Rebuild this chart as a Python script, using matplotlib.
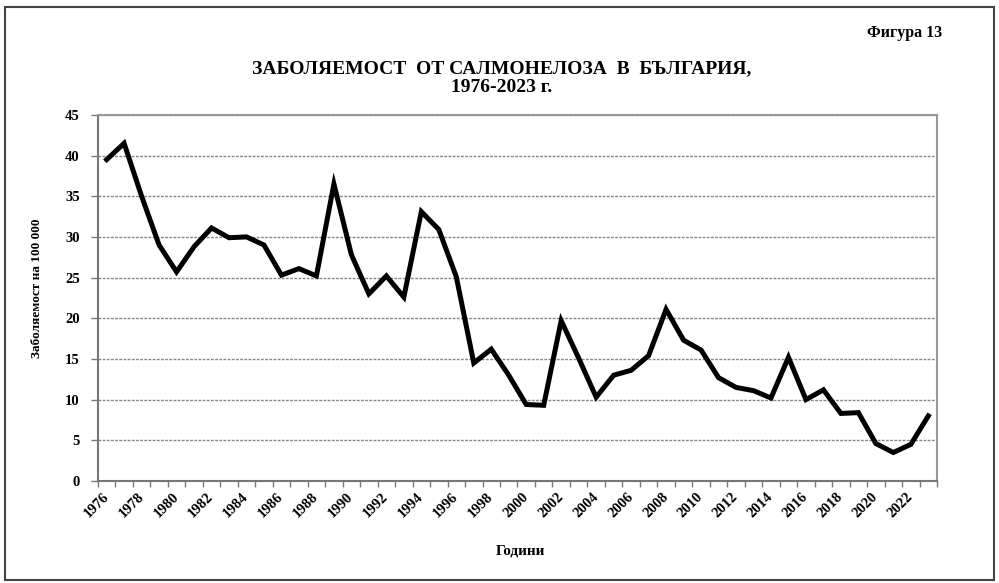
import matplotlib
matplotlib.use('Agg')
from matplotlib import pyplot as plt
from matplotlib.patches import Rectangle

# години и заболяемост на 100 000
years = list(range(1976, 2024))
rate = [39.5, 41.5, 35.0, 29.0, 25.7, 28.8, 31.1, 29.9, 30.0, 29.0,
        25.3, 26.1, 25.2, 36.5, 27.8, 23.0, 25.2, 22.6, 33.1, 30.9,
        25.1, 14.5, 16.2, 13.0, 9.4, 9.3, 19.7, 15.1, 10.3, 13.0,
        13.6, 15.4, 21.1, 17.3, 16.1, 12.7, 11.5, 11.1, 10.2, 15.2,
        10.0, 11.2, 8.3, 8.4, 4.6, 3.5, 4.5, 8.0]
y_ticks = [0, 5, 10, 15, 20, 25, 30, 35, 40, 45]

serif = ['Liberation Serif', 'DejaVu Serif']
plt.rcParams['font.family'] = serif

fig = plt.figure(figsize=(9.99, 5.83), dpi=100)
ax = fig.add_axes([0.098, 0.175, 0.84, 0.628])

x = list(range(len(years)))
ax.plot(x, rate, color='black', linewidth=3.6, solid_joinstyle='miter')

ax.set_xlim(-0.5, len(years) - 0.5)
ax.set_ylim(0, 45)
ax.set_yticks(y_ticks)
ax.set_yticklabels([str(v) for v in y_ticks], fontsize=10.5, fontweight='bold')
ax.yaxis.grid(True, linestyle=(0, (2, 1)), color='#888888', linewidth=1.0)

# деления на границите на категориите, надписи през година
ax.set_xticks([i - 0.5 for i in range(len(years) + 1)], minor=True)
ax.set_xticks(x[::2])
ax.set_xticklabels([str(y) for y in years[::2]], rotation=45, ha='right', va='center',
                   rotation_mode='anchor', fontsize=10.5, fontweight='bold')
ax.tick_params(axis='x', which='major', length=0, pad=10)
ax.tick_params(axis='x', which='minor', length=4, color='#777777', width=1)
ax.tick_params(axis='y', length=5, color='#777777', width=1, pad=8)

for s in ax.spines.values():
    s.set_color('#999999')
    s.set_linewidth(1.5)
ax.spines['left'].set_color('#777777')
ax.spines['bottom'].set_color('#777777')

fig.text(0.037, 0.506, 'Заболяемост на 100 000', rotation=90, ha='center', va='center',
         fontsize=9.5, fontweight='bold')
fig.text(0.521, 0.055, 'Години', ha='center', va='center', fontsize=11, fontweight='bold')

fig.text(0.502, 0.882, 'ЗАБОЛЯЕМОСТ  ОТ САЛМОНЕЛОЗА  В  БЪЛГАРИЯ,',
         ha='center', va='center', fontsize=14, fontweight='bold')
fig.text(0.502, 0.85, '1976-2023 г.', ha='center', va='center', fontsize=14, fontweight='bold')
fig.text(0.943, 0.943, 'Фигура 13', ha='right', va='center', fontsize=11.5, fontweight='bold')

fig.patches.append(Rectangle((0.005, 0.005), 0.99, 0.983, transform=fig.transFigure,
                             fill=False, edgecolor='#444444', linewidth=1.5))

plt.savefig('out.png', dpi=100)
